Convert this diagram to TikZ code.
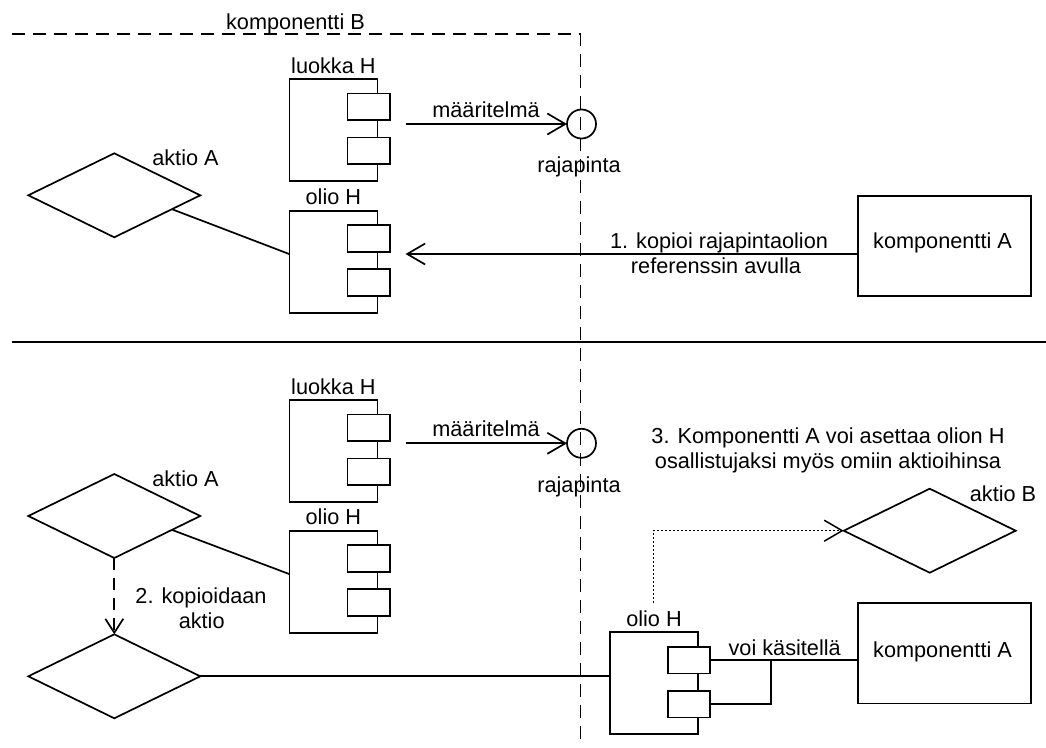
\documentclass[tikz,border=0pt]{standalone}
\usepackage{fontspec}
\setmainfont{Liberation Sans}
\usetikzlibrary{shapes.geometric,arrows.meta,calc}

\tikzset{
  every node/.style={font=\fontsize{21.7}{25}\selectfont, inner sep=0pt, outer sep=0pt},
  ln/.style={line width=1.7pt},
  compbox/.style={draw, line width=1.7pt, minimum width=88pt, minimum height=102pt, anchor=north west},
  portbox/.style={draw, fill=white, line width=1.7pt, minimum width=42.3pt, minimum height=26.7pt, anchor=north west},
  actdia/.style={draw, diamond, line width=1.7pt, minimum width=172pt, minimum height=84pt},
  iface/.style={draw, circle, line width=1.7pt, minimum size=29pt},
  compA/.style={draw, line width=1.7pt, minimum width=173.3pt, minimum height=100.3pt},
  lbl/.style={anchor=base},
  barb/.style={-{Straight Barb[length=18pt,width=21pt]}},
  smallbarb/.style={-{Straight Barb[length=14pt,width=18pt]}},
  boundary/.style={line width=1.7pt, dash pattern=on 13pt off 8pt},
  dashedflow/.style={line width=1.7pt, dash pattern=on 12pt off 8pt},
  dottedflow/.style={line width=1.5pt, dash pattern=on 1.4pt off 2.6pt},
}

% UML component icon: name, top-left x, top-left y, caption
\newcommand{\umlcomp}[4]{%
  \node[compbox] (#1) at (#2,#3) {};
  \node[portbox] (#1p) at ($(#1.north west)+(58,14.6)$) {};
  \node[portbox] (#1q) at ($(#1.north west)+(58,58.6)$) {};
  \node[lbl] (#1l) at ($(#1.north)+(0,-6)$) {#4};
}

\begin{document}
\begin{tikzpicture}[x=1pt,y=-1pt]
\useasboundingbox (0,0) rectangle (1046,747);

% boundary of komponentti B
\coordinate (bTL) at (12.4,34.3);
\coordinate (bTR) at (580.5,34.3);
\coordinate (bBot) at (580.5,747);
\draw[boundary] (bTL) -- (bTR) -- (bBot);
\node[lbl] (kB) at (295.5,29.3) {komponentti B};

% separator between the two stages
\coordinate (sepL) at (12.4,342);
\coordinate (sepR) at (1046,342);
\draw[ln] (sepL) -- (sepR);

% ---------- stage 1 ----------
\umlcomp{lH}{289.4}{79}{luokka H}
\umlcomp{oH}{289.4}{210.7}{olio H}

\node[actdia] (aA) at (114.3,195.3) {};
\node[lbl] (aAl) at (185.5,165.7) {aktio A};

\node[iface] (if1) at (581.5,124) {};
\node[lbl] (if1l) at (579,172) {rajapinta};

\coordinate (d1) at (405.5,124);
\draw[ln, barb] (d1) -- (if1.west);
\node[lbl] (d1l) at (486,117.5) {määritelmä};

\draw[ln] ($(aA.east)!0.33!(aA.south)$) -- ($(oH.north west)+(0,43.4)$);

\node[compA] (kA) at (944.3,245.8) {};
\node[lbl] (kAl) at (942.5,248.5) {komponentti A};

\coordinate (t1) at (405.5,254);
\draw[ln, barb] (kA.west |- t1) -- (t1);
\node[lbl] (t1a) at (719,248.3) {1. kopioi rajapintaolion};
\node[lbl] (t1b) at (716,273.3) {referenssin avulla};

% ---------- stage 2 ----------
\umlcomp{lHb}{289.4}{400}{luokka H}
\umlcomp{oHb}{289.4}{530.7}{olio H}

\node[actdia] (aAb) at (114.3,516) {};
\node[lbl] (aAbl) at (185.5,486.7) {aktio A};

\node[iface] (if2) at (581.5,443.3) {};
\node[lbl] (if2l) at (579,492) {rajapinta};

\coordinate (d2) at (405.5,443.3);
\draw[ln, barb] (d2) -- (if2.west);
\node[lbl] (d2l) at (486,436.8) {määritelmä};

\draw[ln] ($(aAb.east)!0.33!(aAb.south)$) -- ($(oHb.north west)+(0,43.4)$);

% copied activity
\node[actdia] (aAc) at (114.3,676.3) {};
\draw[dashedflow, smallbarb] (aAb.south) -- (aAc.north);
\node[lbl] (cp1) at (201,603.3) {2. kopioidaan};
\node[lbl] (cp2) at (201.7,628.3) {aktio};

\umlcomp{oHc}{610}{632.3}{olio H}
\draw[ln] (aAc.east) -- (aAc.east -| oHc.west);

\node[compA] (kAb) at (944.3,653.3) {};
\node[lbl] (kAbl) at (942.5,657.5) {komponentti A};

\draw[ln] (oHcp.east) -- (oHcp.east -| kAb.west);
\draw[ln] (oHcq.east) -| ($(oHcp.east)!0.41!(oHcp.east -| kAb.west)$);
\node[lbl] (vk) at (784.7,655) {voi käsitellä};

% activity of komponentti A
\node[actdia] (aB) at (929.7,530.7) {};
\node[lbl] (aBl) at (1003,501.7) {aktio B};
\coordinate (dt) at (653.3,602.7);
\draw[dottedflow, barb] (dt) |- (aB.west);

\node[lbl] (n3a) at (828,443.3) {3. Komponentti A voi asettaa olion H};
\node[lbl] (n3b) at (828,468.3) {osallistujaksi myös omiin aktioihinsa};
\end{tikzpicture}
\end{document}
